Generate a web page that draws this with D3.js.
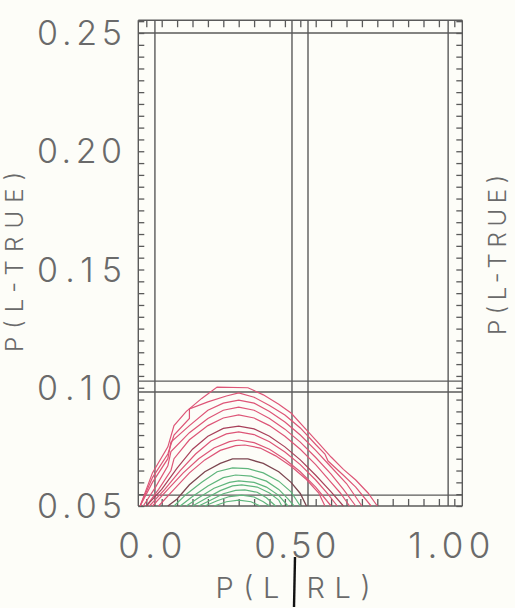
<!DOCTYPE html>
<html><head><meta charset="utf-8">
<script src="https://cdn.jsdelivr.net/npm/d3@7"></script>
<style>
html,body{margin:0;padding:0;background:#fdfdf8;}
svg{display:block;}
</style></head>
<body>
<svg id="chart" width="515" height="608"></svg>
<script>
// ---------------- data ----------------
const yTickLabels = ["0.05", "0.10", "0.15", "0.20", "0.25"];
const yTickValues = [0.05, 0.10, 0.15, 0.20, 0.25];
const xTickLabels = ["0.0", "0.50", "1.00"];
const xTickValues = [0.0, 0.5, 1.0];
const yTitle = "P(L-TRUE)";
const xTitle = "P(L RL)";

// frame / reference lines (data units)
const frameX = [-0.026, 1.026];
const frameY = [0.05, 0.2554];
const vLines = [-0.026, 0.028, 0.473, 0.525, 0.98, 1.026];
const hLines = [0.2554, 0.25, 0.1028, 0.0982, 0.0546, 0.05];

// red family
const red1 = [[-0.02,0.050],[0.02,0.064],[0.07,0.075],[0.09,0.084],[0.13,0.090],[0.18,0.0955],[0.23,0.1003],[0.33,0.1000],[0.38,0.0970],[0.43,0.0930],[0.47,0.0893],[0.52,0.0822],[0.56,0.0765],[0.60,0.0707],[0.64,0.0655],[0.68,0.0610],[0.72,0.0555],[0.75,0.050]];
const red2 = [[-0.02,0.050],[0.02,0.062],[0.07,0.072],[0.09,0.080],[0.14,0.087],[0.14,0.091],[0.20,0.094],[0.26,0.0965],[0.30,0.0978],[0.35,0.0960],[0.40,0.0925],[0.45,0.0885],[0.50,0.0830],[0.55,0.0760],[0.58,0.0720],[0.59,0.0690],[0.64,0.0630],[0.68,0.0580],[0.73,0.050]];
const red3 = [[-0.02,0.050],[0.02,0.060],[0.07,0.070],[0.08,0.077],[0.14,0.084],[0.20,0.0905],[0.25,0.0935],[0.30,0.0948],[0.35,0.0935],[0.40,0.0900],[0.45,0.0855],[0.50,0.0800],[0.55,0.0735],[0.60,0.0665],[0.65,0.0595],[0.70,0.050]];
const red4 = [[-0.01,0.050],[0.03,0.058],[0.07,0.067],[0.08,0.073],[0.14,0.081],[0.20,0.087],[0.25,0.0905],[0.30,0.0918],[0.35,0.0905],[0.40,0.0870],[0.45,0.0825],[0.50,0.0770],[0.55,0.0705],[0.60,0.0635],[0.64,0.0570],[0.68,0.050]];
const red5 = [[0.0,0.050],[0.04,0.057],[0.08,0.065],[0.09,0.070],[0.14,0.078],[0.20,0.0840],[0.25,0.0872],[0.30,0.0885],[0.35,0.0872],[0.40,0.0840],[0.45,0.0795],[0.50,0.0740],[0.55,0.0675],[0.60,0.0600],[0.63,0.0555],[0.66,0.050]];
const red6 = [[0.0,0.050],[0.05,0.057],[0.10,0.066],[0.15,0.074],[0.20,0.0795],[0.25,0.0828],[0.30,0.0838],[0.35,0.0826],[0.40,0.0795],[0.45,0.0750],[0.50,0.0695],[0.55,0.0630],[0.60,0.0560],[0.64,0.050]];
const red7 = [[0.01,0.050],[0.06,0.057],[0.11,0.065],[0.16,0.072],[0.21,0.0775],[0.26,0.0805],[0.30,0.0813],[0.35,0.0802],[0.40,0.0772],[0.45,0.0728],[0.50,0.0675],[0.55,0.0610],[0.59,0.0550],[0.62,0.050]];
const red8 = [[0.02,0.050],[0.07,0.057],[0.12,0.064],[0.17,0.070],[0.22,0.0745],[0.27,0.0772],[0.30,0.0779],[0.35,0.0768],[0.40,0.0740],[0.45,0.0698],[0.50,0.0645],[0.55,0.0580],[0.60,0.050]];
const red9 = [[0.04,0.050],[0.09,0.057],[0.14,0.064],[0.19,0.0695],[0.24,0.0735],[0.29,0.0755],[0.32,0.0758],[0.37,0.0745],[0.42,0.0712],[0.47,0.0668],[0.52,0.0612],[0.56,0.0555],[0.58,0.050]];
// dark curve
const dark1 = [[0.07,0.050],[0.10,0.053],[0.14,0.059],[0.19,0.0645],[0.24,0.0680],[0.28,0.0699],[0.33,0.0699],[0.38,0.0680],[0.43,0.0645],[0.47,0.0600],[0.50,0.0553],[0.52,0.050]];
// green family
const green1 = [[0.09,0.050],[0.13,0.055],[0.18,0.060],[0.23,0.0645],[0.28,0.0661],[0.33,0.0658],[0.38,0.0640],[0.43,0.0605],[0.47,0.0560],[0.50,0.050]];
const green2 = [[0.11,0.050],[0.15,0.054],[0.20,0.0585],[0.25,0.0620],[0.29,0.0631],[0.34,0.0626],[0.39,0.0605],[0.43,0.0570],[0.46,0.0530],[0.48,0.050]];
const green3 = [[0.13,0.050],[0.17,0.0535],[0.22,0.0575],[0.27,0.0600],[0.30,0.0606],[0.35,0.0600],[0.39,0.0580],[0.43,0.0545],[0.46,0.050]];
const green4 = [[0.15,0.050],[0.19,0.0530],[0.24,0.0565],[0.28,0.0585],[0.31,0.0589],[0.36,0.0580],[0.40,0.0555],[0.43,0.0525],[0.44,0.050]];
const green5 = [[0.17,0.050],[0.21,0.0525],[0.25,0.0552],[0.29,0.0566],[0.32,0.0568],[0.36,0.0558],[0.39,0.0535],[0.42,0.050]];
const green6 = [[0.19,0.050],[0.23,0.0522],[0.27,0.0540],[0.31,0.0546],[0.35,0.0538],[0.38,0.0518],[0.40,0.050]];
const green7 = [[0.22,0.050],[0.26,0.0518],[0.30,0.0525],[0.34,0.0518],[0.37,0.050]];

const redSeries = [red1, red2, red3, red4, red5, red6, red7, red8, red9];
const darkSeries = [dark1];
const greenSeries = [green1, green2, green3, green4, green5, green6, green7];

// ---------------- drawing ----------------
const svg = d3.select("#chart");
const x = d3.scaleLinear().domain([0, 1]).range([146.3, 454.3]);
const y = d3.scaleLinear().domain([0.05, 0.25]).range([506, 33]);

const frameColor = "#5a5a5a";
const textColor = "#6a6a6a";

// reference / frame lines
const gLines = svg.append("g").attr("stroke", frameColor).attr("stroke-width", 1.4).attr("fill", "none");
gLines.selectAll("line.v").data(vLines).join("line").attr("class", "v")
  .attr("x1", d => x(d)).attr("x2", d => x(d))
  .attr("y1", y(frameY[0])).attr("y2", y(frameY[1]));
gLines.selectAll("line.h").data(hLines).join("line").attr("class", "h")
  .attr("y1", d => y(d)).attr("y2", d => y(d))
  .attr("x1", x(frameX[0])).attr("x2", x(frameX[1]));

// ticks via d3 axes
const minorY = d3.range(0.05, 0.2551, 0.005);
const minorX = d3.range(0, 1.0001, 0.05);
function styleAxis(g) {
  g.select(".domain").remove();
  g.selectAll("line").attr("stroke", frameColor).attr("stroke-width", 1.3);
  g.selectAll("text").remove();
}
svg.append("g").attr("transform", `translate(${x(frameX[0])},0)`)
  .call(d3.axisRight(y).tickValues(minorY).tickSize(6)).call(styleAxis);
svg.append("g").attr("transform", `translate(${x(frameX[1])},0)`)
  .call(d3.axisLeft(y).tickValues(minorY).tickSize(6)).call(styleAxis);
svg.append("g").attr("transform", `translate(0,${y(frameY[1])})`)
  .call(d3.axisBottom(x).tickValues(minorX).tickSize(7)).call(styleAxis);
svg.append("g").attr("transform", `translate(0,${y(frameY[0])})`)
  .call(d3.axisTop(x).tickValues(minorX).tickSize(7)).call(styleAxis);

// curves
const line = d3.line().x(d => x(d[0])).y(d => y(d[1]));
svg.append("g").selectAll("path").data(greenSeries).join("path")
  .attr("d", line).attr("fill", "none").attr("stroke", "#5fb57c").attr("stroke-width", 1.2);
svg.append("g").selectAll("path").data(darkSeries).join("path")
  .attr("d", line).attr("fill", "none").attr("stroke", "#7c4650").attr("stroke-width", 1.3);
svg.append("g").selectAll("path").data(redSeries).join("path")
  .attr("d", line).attr("fill", "none")
  .attr("stroke", (d, i) => i === 5 ? "#a8405a" : "#dd5577").attr("stroke-width", 1.2);

// tick labels
const font = "Inter, 'DejaVu Sans', sans-serif";
svg.append("g").selectAll("text").data(yTickLabels).join("text")
  .attr("x", 122).attr("y", (d, i) => y(yTickValues[i]))
  .attr("dy", "0.36em")
  .attr("text-anchor", "end")
  .attr("font-family", font).attr("font-weight", 300).attr("font-size", 34)
  .attr("fill", textColor)
  .attr("textLength", 85).attr("lengthAdjust", "spacing")
  .text(d => d);

svg.append("g").selectAll("text").data(xTickLabels).join("text")
  .attr("x", (d, i) => x(xTickValues[i]) + 36).attr("y", 558)
  .attr("text-anchor", "end")
  .attr("font-family", font).attr("font-weight", 300).attr("font-size", 35)
  .attr("fill", textColor)
  .attr("textLength", d => d.length === 3 ? 64 : 82).attr("lengthAdjust", "spacing")
  .text(d => d);

// axis titles
svg.append("text")
  .attr("transform", "translate(23,262) rotate(-90)")
  .attr("text-anchor", "middle")
  .attr("font-family", font).attr("font-weight", 300).attr("font-size", 24)
  .attr("fill", textColor)
  .attr("textLength", 180).attr("lengthAdjust", "spacing")
  .text(yTitle);
svg.append("text")
  .attr("transform", "translate(506,255) rotate(-90)")
  .attr("text-anchor", "middle")
  .attr("font-family", font).attr("font-weight", 300).attr("font-size", 24)
  .attr("fill", textColor)
  .attr("textLength", 160).attr("lengthAdjust", "spacing")
  .text(yTitle);
svg.append("text")
  .attr("x", 293).attr("y", 598)
  .attr("text-anchor", "middle")
  .attr("font-family", font).attr("font-weight", 300).attr("font-size", 29)
  .attr("fill", textColor)
  .attr("textLength", 155).attr("lengthAdjust", "spacing")
  .text(xTitle);
// hand-drawn bar in the x title
svg.append("line")
  .attr("x1", 295).attr("x2", 294).attr("y1", 557).attr("y2", 607)
  .attr("stroke", "#111").attr("stroke-width", 2.4);
</script>
</body></html>
